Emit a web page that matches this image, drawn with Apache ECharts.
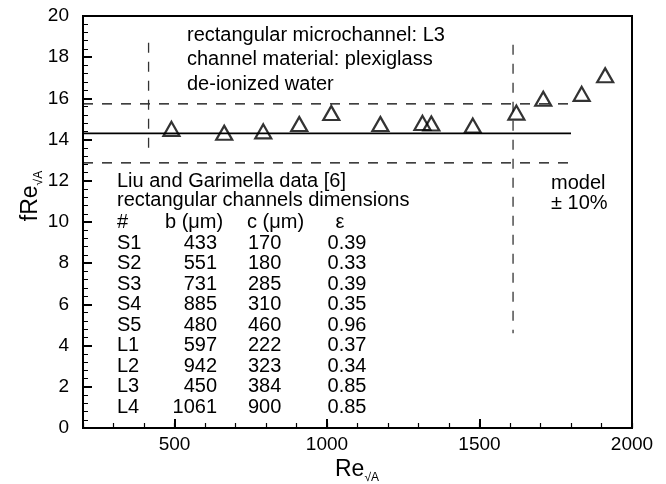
<!DOCTYPE html>
<html>
<head>
<meta charset="utf-8">
<script src="https://cdn.jsdelivr.net/npm/echarts@6/dist/echarts.min.js"></script>
<style>
html,body{margin:0;padding:0;background:#fff;}
#chart{width:666px;height:484px;}
</style>
</head>
<body>
<div id="chart"></div>
<script>
// ---- data ----
const reL3  = [490, 663, 791, 909, 1014, 1175, 1313, 1342, 1478, 1621, 1709, 1835, 1912];
const fReL3 = [14.52, 14.33, 14.40, 14.76, 15.29, 14.76, 14.81, 14.78, 14.68, 15.31, 15.98, 16.22, 17.12];
const modelValue = 14.3;
const modelTolerance = 0.10;
const modelReRange = [200, 1800];
const reLimits = [415, 1610];
const reLimitSpans = [[18.7, 13.3], [18.6, 4.6]];
const xMajorTicks = [500, 1000, 1500, 2000];

const channelNames = ['S1','S2','S3','S4','S5','L1','L2','L3','L4'];
const bValues = ['433','551','731','885','480','597','942','450','1061'];
const cValues = ['170','180','285','310','460','222','323','384','900'];
const epsValues = ['0.39','0.33','0.39','0.35','0.96','0.37','0.34','0.85','0.85'];

const infoLines = ['rectangular microchannel: L3', 'channel material: plexiglass', 'de-ionized water'];

const FONT = '"Liberation Sans", Arial, Helvetica, sans-serif';
const TICK = '#000';

function txt(x, y, text, size, align) {
  return {
    type: 'text', x: x, y: y, silent: true,
    style: {
      text: text, fontSize: size, fontFamily: FONT, fill: '#000',
      align: align || 'left', textAlign: align || 'left',
      verticalAlign: 'middle', textVerticalAlign: 'middle'
    }
  };
}

const graphics = [];
infoLines.forEach((t, i) => graphics.push(txt(187, 35 + i * 24.5, t, 20)));
graphics.push(txt(117, 181, 'Liu and Garimella data [6]', 20));
graphics.push(txt(117, 200, 'rectangular channels dimensions', 20));
graphics.push(txt(117, 222, '#', 20));
graphics.push(txt(165, 222, 'b (\u03bcm)', 20));
graphics.push(txt(247, 222, 'c (\u03bcm)', 20));
graphics.push(txt(340, 222, '\u03b5', 20, 'center'));
channelNames.forEach((n, i) => {
  const y = 243 + i * 20.5;
  graphics.push(txt(117, y, n, 20));
  graphics.push(txt(217, y, bValues[i], 20, 'right'));
  graphics.push(txt(248, y, cValues[i], 20));
  graphics.push(txt(347, y, epsValues[i], 20, 'center'));
});
graphics.push(txt(551, 183, 'model', 20));
graphics.push(txt(551, 203, '\u00b1 10%', 20));

const richTitle = {
  m: { fontSize: 23, fontFamily: FONT, verticalAlign: 'middle', lineHeight: 28 },
  s: { fontSize: 12, fontFamily: FONT, verticalAlign: 'bottom' }
};
graphics.push({
  type: 'text', x: 357, y: 470, silent: true,
  style: { text: '{m|Re}{s|\u221aA}', rich: richTitle, fill: '#000',
    align: 'center', textAlign: 'center', verticalAlign: 'middle', textVerticalAlign: 'middle' }
});
graphics.push({
  type: 'text', x: 31, y: 196, rotation: Math.PI / 2, silent: true,
  style: { text: '{m|fRe}{s|\u221aA}', rich: richTitle, fill: '#000',
    align: 'center', textAlign: 'center', verticalAlign: 'middle', textVerticalAlign: 'middle' }
});

const dash = [10, 9];
const series = [
  {
    type: 'line', data: [[modelReRange[0], modelValue], [modelReRange[1], modelValue]],
    symbol: 'none', lineStyle: { color: '#000', width: 1.6 }, z: 2
  },
  {
    type: 'line', data: [[modelReRange[0], modelValue * (1 + modelTolerance)], [modelReRange[1], modelValue * (1 + modelTolerance)]],
    symbol: 'none', lineStyle: { color: '#000', width: 1.3, type: dash }, z: 2
  },
  {
    type: 'line', data: [[modelReRange[0], modelValue * (1 - modelTolerance)], [modelReRange[1], modelValue * (1 - modelTolerance)]],
    symbol: 'none', lineStyle: { color: '#000', width: 1.3, type: dash }, z: 2
  }
];
reLimits.forEach((re, i) => {
  series.push({
    type: 'line', data: [[re, reLimitSpans[i][0]], [re, reLimitSpans[i][1]]],
    symbol: 'none', lineStyle: { color: '#333', width: 1.3, type: dash }, z: 2
  });
});
series.push({
  type: 'scatter',
  data: reL3.map((r, i) => [r, fReL3[i]]),
  symbol: 'triangle', symbolSize: [16, 14],
  itemStyle: { color: 'rgba(255,255,255,0)', borderColor: '#000', borderWidth: 2.2 },
  z: 5
});

const chart = echarts.init(document.getElementById('chart'), null, { renderer: 'canvas' });
chart.setOption({
  animation: false,
  backgroundColor: '#fff',
  grid: { left: 83, right: 34, top: 16, bottom: 56, containLabel: false, outerBoundsMode: 'none',
          show: true, borderColor: '#000', borderWidth: 2 },
  xAxis: [
    {
      type: 'value', min: 200, max: 2000, interval: 100, position: 'bottom',
      axisLine: { show: true, lineStyle: { color: '#000', width: 2 } },
      axisTick: { show: true, inside: false, length: -5, lineStyle: { color: TICK, width: 1.2 } },
      axisLabel: { show: true, margin: 7, fontSize: 19, fontFamily: FONT, color: '#000',
        formatter: v => (xMajorTicks.indexOf(v) >= 0 ? String(v) : '') },
      splitLine: { show: false }
    },
    {
      type: 'value', min: 200, max: 2000, interval: 100, position: 'bottom',
      axisLine: { show: false },
      axisTick: { show: true, inside: false, length: -9, customValues: xMajorTicks, lineStyle: { color: TICK, width: 2 } },
      axisLabel: { show: false },
      splitLine: { show: false }
    }
  ],
  yAxis: {
    type: 'value', min: 0, max: 20, interval: 2,
    axisLine: { show: true, lineStyle: { color: '#000', width: 2 } },
    axisTick: { show: true, inside: false, length: -9, lineStyle: { color: TICK, width: 2 } },
    minorTick: { show: true, splitNumber: 5, length: -5, lineStyle: { color: TICK, width: 1 } },
    axisLabel: { margin: 14, fontSize: 19, fontFamily: FONT, color: '#000' },
    splitLine: { show: false }
  },
  graphic: graphics,
  series: series
});
</script>
</body>
</html>
